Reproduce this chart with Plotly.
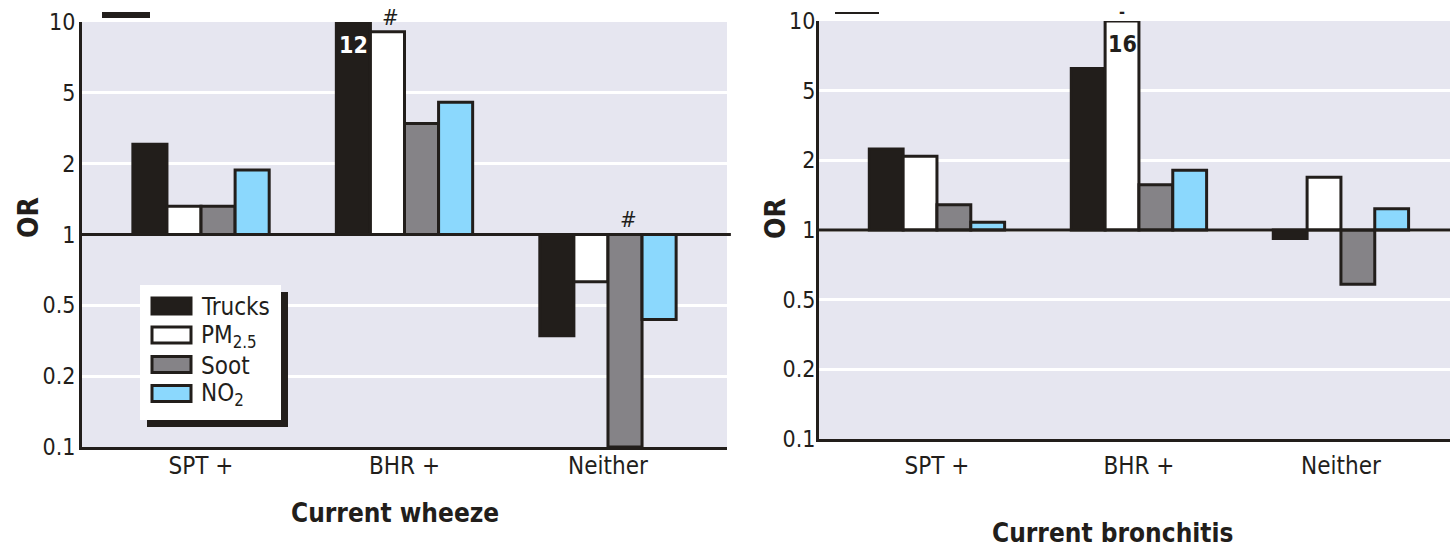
import numpy as np
import plotly.graph_objects as go

# ---------------- data ----------------
categories = ["SPT +", "BHR +", "Neither"]
series_names = ["Trucks", "PM<sub>2.5</sub>", "Soot", "NO<sub>2</sub>"]
tick_values = [0.1, 0.2, 0.5, 1, 2, 5, 10]
tick_labels = ["0.1", "0.2", "0.5", "1", "2", "5", "10"]

wheeze_trucks = [2.57, 12, 0.337]
wheeze_pm25 = [1.32, 9.1, 0.63]
wheeze_soot = [1.32, 3.36, 0.1]
wheeze_no2 = [1.88, 4.43, 0.416]

bronchitis_trucks = [2.32, 6.24, 0.92]
bronchitis_pm25 = [2.11, 16, 1.69]
bronchitis_soot = [1.285, 1.57, 0.583]
bronchitis_no2 = [1.08, 1.81, 1.235]

panel_titles = ["Current wheeze", "Current bronchitis"]
y_title = "OR"
# (series index, category index) of off-scale bars whose value is written inside the bar
wheeze_offscale = [(0, 1)]
bronchitis_offscale = [(1, 1)]
# (series index, category index) flagged with "#"
wheeze_flags = [(1, 1), (2, 2)]

# ---------------- style ----------------
W, H = 1450, 547
INK = "#221e1b"
BG = "#e6e6f0"
FILLS = [INK, "#ffffff", "#858387", "#8bd8fd"]
FONT = "Liberation Sans Narrow, DejaVu Sans Condensed, sans-serif"
BARGAP = 0.33


def px(x):
    return x / W


def py(y):
    return 1 - y / H


def pos(values):
    """Position on the equally spaced OR scale (0.1, 0.2, 0.5, 1, 2, 5, 10)."""
    return np.interp(np.log(np.asarray(values, float)), np.log(tick_values),
                     np.arange(len(tick_values)))


BASE = float(pos([1])[0])

wheeze = [wheeze_trucks, wheeze_pm25, wheeze_soot, wheeze_no2]
bronchitis = [bronchitis_trucks, bronchitis_pm25, bronchitis_soot, bronchitis_no2]

fig = go.Figure()
for panel, (data, xa, ya) in enumerate([(wheeze, "x", "y"), (bronchitis, "x2", "y2")]):
    for i, (name, vals) in enumerate(zip(series_names, data)):
        p = pos(vals)
        fig.add_trace(go.Bar(
            x=categories, y=p - BASE, base=BASE, name=name, xaxis=xa, yaxis=ya,
            marker=dict(color=FILLS[i], line=dict(color=INK, width=3)),
            customdata=vals, hovertemplate=name + " %{x}: OR %{customdata}<extra></extra>",
            showlegend=False, offsetgroup=str(i),
        ))


def bar_x(series_idx, cat_idx):
    w = (1 - BARGAP) / len(series_names)
    return cat_idx + (series_idx - (len(series_names) - 1) / 2) * w


def txt(**kw):
    d = dict(showarrow=False, xanchor="center", yanchor="middle")
    d.update(kw)
    return d


annotations = []
# off-scale value labels
for (s, c) in wheeze_offscale:
    annotations.append(txt(xref="x", yref="y", x=bar_x(s, c), y=float(pos([wheeze[s][c]])[0]),
                           text=f"<b>{wheeze[s][c]:g}</b>", yanchor="top", yshift=-8,
                           font=dict(family=FONT, size=23, color="white" if s == 0 else INK)))
for (s, c) in bronchitis_offscale:
    annotations.append(txt(xref="x2", yref="y2", x=bar_x(s, c), y=float(pos([bronchitis[s][c]])[0]),
                           text=f"<b>{bronchitis[s][c]:g}</b>", yanchor="top", yshift=-8,
                           font=dict(family=FONT, size=23, color="white" if s == 0 else INK)))
    annotations.append(txt(xref="x2", yref="paper", x=bar_x(s, c), y=py(12),
                           text="<b>-</b>", font=dict(family=FONT, size=16, color=INK)))
for (s, c) in wheeze_flags:
    yv = max(float(pos([wheeze[s][c]])[0]), BASE)
    annotations.append(txt(xref="x", yref="y", x=bar_x(s, c), y=yv, text="<i>#</i>",
                           yanchor="bottom", yshift=0, xshift=3,
                           font=dict(family=FONT, size=22, color=INK)))

# panel titles and OR labels
annotations += [
    txt(xref="paper", yref="paper", x=px(395), y=py(513), text=f"<b>{panel_titles[0]}</b>",
        font=dict(family=FONT, size=26, color=INK)),
    txt(xref="paper", yref="paper", x=px(1112), y=py(533), text=f"<b>{panel_titles[1]}</b>",
        font=dict(family=FONT, size=26, color=INK)),
    txt(xref="paper", yref="paper", x=px(28), y=py(218), text=f"<b>{y_title}</b>", textangle=-90,
        font=dict(family=FONT, size=28, color=INK)),
    txt(xref="paper", yref="paper", x=px(775), y=py(218), text=f"<b>{y_title}</b>", textangle=-90,
        font=dict(family=FONT, size=28, color=INK)),
]

shapes = [
    # reference line at OR = 1
    dict(type="line", xref="x domain", yref="y", x0=0, x1=1.006, y0=BASE, y1=BASE,
         line=dict(color=INK, width=3), layer="above"),
    dict(type="line", xref="x2 domain", yref="y2", x0=0, x1=1, y0=BASE, y1=BASE,
         line=dict(color=INK, width=3), layer="above"),
    # cropped remnants at the top edge
    dict(type="line", xref="paper", yref="paper", x0=px(102), x1=px(150), y0=py(15), y1=py(15),
         line=dict(color=INK, width=6)),
    dict(type="line", xref="paper", yref="paper", x0=px(835), x1=px(879), y0=py(13), y1=py(13),
         line=dict(color=INK, width=2)),
    # legend box with shadow
    dict(type="rect", xref="paper", yref="paper", x0=px(147), x1=px(288), y0=py(292), y1=py(427),
         fillcolor=INK, line=dict(width=0), layer="above"),
    dict(type="rect", xref="paper", yref="paper", x0=px(140), x1=px(281), y0=py(285), y1=py(420),
         fillcolor="white", line=dict(width=0), layer="above"),
]
row_y = [306, 335, 364.5, 393.5]
for i, name in enumerate(series_names):
    shapes.append(dict(type="rect", xref="paper", yref="paper", x0=px(152), x1=px(191),
                       y0=py(row_y[i] - 8), y1=py(row_y[i] + 8), fillcolor=FILLS[i],
                       line=dict(color=INK, width=3), layer="above"))
    annotations.append(txt(xref="paper", yref="paper", x=px(199), y=py(row_y[i] + 1), text=name,
                           xanchor="left", font=dict(family=FONT, size=24, color=INK)))

common_y = dict(
    tickmode="array", tickvals=list(range(len(tick_values))), ticktext=tick_labels,
    range=[0, len(tick_values) - 1], showgrid=True, gridcolor="white", gridwidth=3,
    zeroline=False, showline=True, linecolor=INK, linewidth=3,
    ticks="outside", ticklen=0, tickcolor="rgba(0,0,0,0)", automargin=False,
    tickfont=dict(family=FONT, size=23, color=INK), fixedrange=True,
)
common_x = dict(
    type="category", showgrid=False, zeroline=False, showline=True, linecolor=INK, linewidth=3,
    ticks="outside", tickcolor="rgba(0,0,0,0)", automargin=False,
    tickfont=dict(family=FONT, size=24, color=INK), fixedrange=True,
)

fig.update_layout(
    width=W, height=H, margin=dict(l=0, r=0, t=0, b=0, autoexpand=False),
    paper_bgcolor="white", plot_bgcolor=BG,
    barmode="group", bargap=BARGAP, bargroupgap=0,
    showlegend=False,
    xaxis=dict(domain=[px(82), px(727)], anchor="y", range=[-0.585, 2.585], ticklen=0,
               ticklabelstandoff=-5, **common_x),
    yaxis=dict(domain=[py(447), py(22)], anchor="x", ticklabelstandoff=-1, **common_y),
    xaxis2=dict(domain=[px(819), 1.0], anchor="y2", range=[-0.584, 2.54], ticklen=3, **common_x),
    yaxis2=dict(domain=[py(439), py(21)], anchor="x2", ticklabelstandoff=-4, **common_y),
    annotations=annotations, shapes=shapes,
)

fig.write_html("out.html")
